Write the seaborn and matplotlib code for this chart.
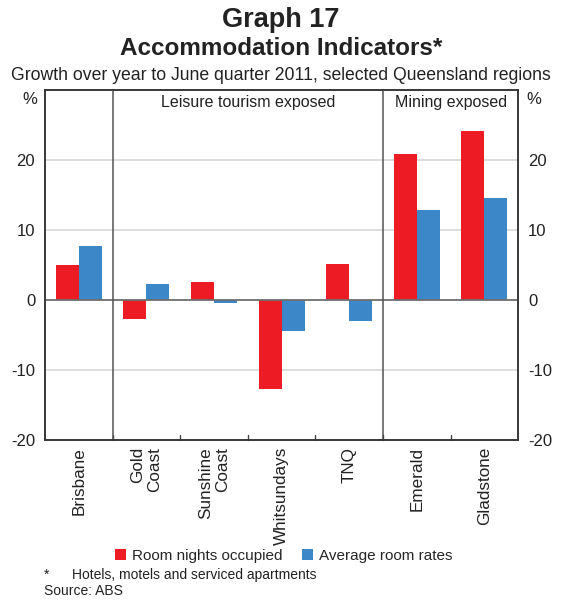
import matplotlib
matplotlib.use("Agg")
import matplotlib.pyplot as plt
import seaborn as sns
import pandas as pd
from matplotlib.patches import Patch

regions = ["Brisbane", "Gold\nCoast", "Sunshine\nCoast", "Whitsundays", "TNQ", "Emerald", "Gladstone"]
room_nights = [5.0, -2.7, 2.6, -12.7, 5.1, 20.9, 24.1]
room_rates = [7.7, 2.3, -0.4, -4.4, -3.0, 12.9, 14.6]
series_names = ["Room nights occupied", "Average room rates"]
colors = ["#ED1C24", "#3C87C8"]
yticks = [-20, -10, 0, 10, 20]

df = pd.DataFrame({
    "region": regions * 2,
    "value": room_nights + room_rates,
    "series": [series_names[0]] * len(regions) + [series_names[1]] * len(regions),
})

sns.set_style("white")
plt.rcParams["font.family"] = ["Liberation Sans", "DejaVu Sans"]
plt.rcParams["axes.unicode_minus"] = False

fig = plt.figure(figsize=(5.62, 6.01), dpi=100)
ax = fig.add_axes([0.080, 0.268, 0.842, 0.582])

sns.barplot(data=df, x="region", y="value", hue="series", palette=colors,
            width=0.68, saturation=1, ax=ax, legend=False, order=regions,
            hue_order=series_names, linewidth=0, edgecolor="none")

ax.set_xlim(-0.5, len(regions) - 0.5)
ax.set_ylim(-20, 30)
for y in [-10, 10, 20]:
    ax.axhline(y, color="#d8d8d8", lw=1.2, zorder=0)
ax.axhline(0, color="#6e6e6e", lw=1.3, zorder=3)
for x in [0.5, 4.5]:
    ax.axvline(x, color="#555555", lw=1.1, zorder=3)

ax.set_xlabel("")
ax.set_ylabel("")
ax.set_yticks(yticks)
ax.tick_params(axis="y", length=0, labelsize=12, pad=7, colors="#222222")
ax.set_xticks(range(len(regions)))
ax.set_xticklabels(regions, rotation=90, fontsize=12.3, va="top", ha="center",
                   multialignment="right", color="#222222")
ax.tick_params(axis="x", length=0, pad=5)
for x in [i + 0.5 for i in range(len(regions) - 1)]:
    ax.plot([x, x], [-20, -19.3], color="#444444", lw=1, zorder=4, clip_on=False)

ax2 = ax.twinx()
ax2.set_ylim(-20, 30)
ax2.set_yticks(yticks)
ax2.tick_params(axis="y", length=0, labelsize=12, pad=7, colors="#222222")
for a in (ax, ax2):
    for s in a.spines.values():
        s.set_color("#333333")
        s.set_linewidth(1.1)

ax.text(-0.62, 28.6, "%", ha="right", va="center", fontsize=12, color="#222222")
ax.text(6.62, 28.6, "%", ha="left", va="center", fontsize=12, color="#222222")
ax.text(2.5, 28.3, "Leisure tourism exposed", ha="center", va="center", fontsize=11.5, color="#222222")
ax.text(5.5, 28.3, "Mining exposed", ha="center", va="center", fontsize=11.5, color="#222222")

fig.text(0.5, 0.966, "Graph 17", ha="center", va="center", fontsize=19.5, fontweight="bold", color="#222222")
fig.text(0.5, 0.920, "Accommodation Indicators*", ha="center", va="center", fontsize=17.5, fontweight="bold", color="#222222")
fig.text(0.5, 0.875, "Growth over year to June quarter 2011, selected Queensland regions",
         ha="center", va="center", fontsize=12.7, color="#222222")

handles = [Patch(facecolor=c, edgecolor="none") for c in colors]
fig.legend(handles, series_names, loc="center", bbox_to_anchor=(0.505, 0.075), ncol=2,
           frameon=False, fontsize=11, handlelength=0.7, handleheight=0.7,
           handletextpad=0.4, columnspacing=1.3)
fig.text(0.078, 0.044, "*", ha="left", va="center", fontsize=10, color="#222222")
fig.text(0.128, 0.044, "Hotels, motels and serviced apartments", ha="left", va="center", fontsize=10, color="#222222")
fig.text(0.078, 0.016, "Source: ABS", ha="left", va="center", fontsize=10, color="#222222")

fig.savefig("out.png", dpi=100)
